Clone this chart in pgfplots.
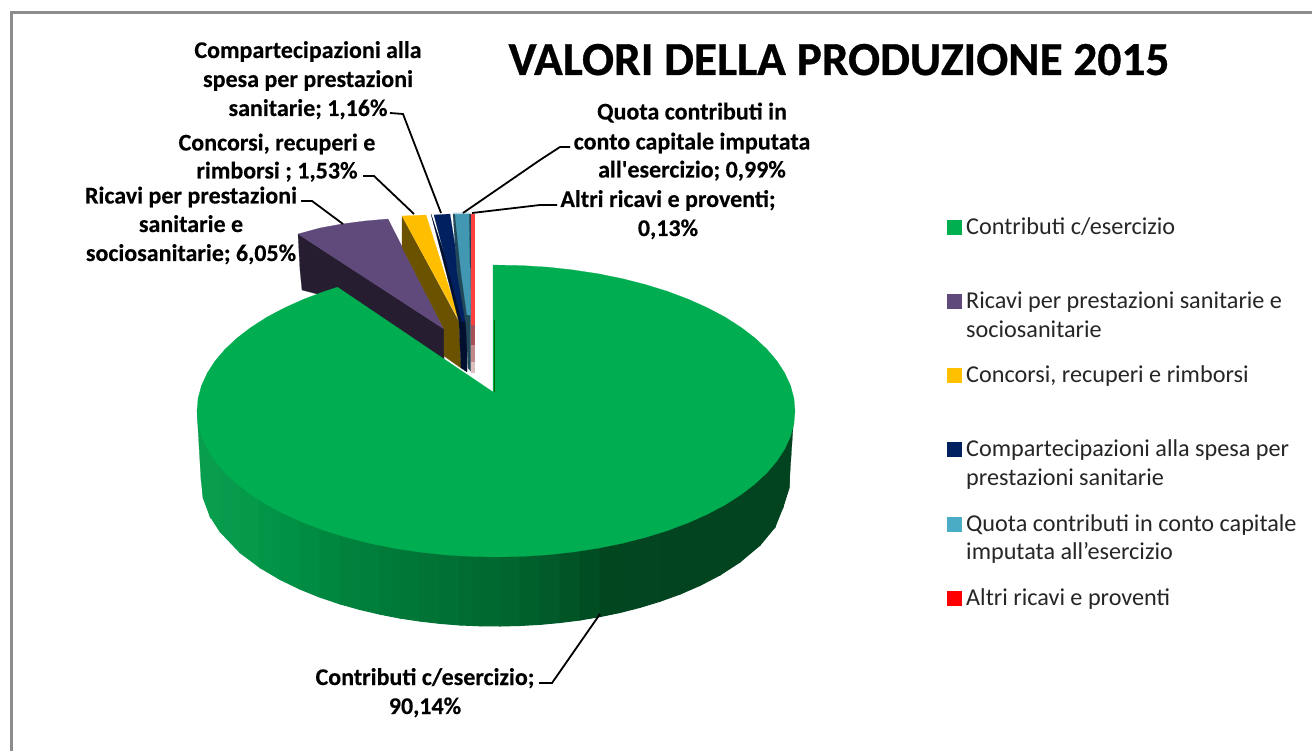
\documentclass[border=0pt]{standalone}
\usepackage{pgfplots}
\pgfplotsset{compat=1.18}
\usepackage{fontspec}
\setmainfont{Carlito}
\newfontfamily\heavyf{Carlito}[BoldFeatures={FakeBold=0.7}]
\newfontfamily\midf{Carlito}[BoldFeatures={FakeBold=0.25}]
\newcommand\strip[7]{\addplot[fill={rgb,255:red,#5;green,#6;blue,#7},draw={rgb,255:red,#5;green,#6;blue,#7},line width=1pt,forget plot] coordinates {(#1,411)(#3,411)(#3,#4)(#1,#2)} --cycle;}
\newcommand\poly[2]{\addplot[fill=#1,draw=#1,line width=0.2pt,forget plot] coordinates {#2} --cycle;}
\newcommand\lead[1]{\addplot[black,line width=1.8pt,forget plot] coordinates {#1};}
\newcommand\bl[3]{\node[anchor=base,inner sep=0pt,font=\midf\fontsize{24}{24}\selectfont\bfseries] at (axis cs:#1,#2) {#3};}
\newcommand\lgt[2]{\node[anchor=base west,inner sep=0pt,font=\fontsize{24.2}{24.2}\selectfont,text=black!85] at (axis cs:966,#1) {#2};}
\newcommand\mk[2]{\addplot[only marks,mark=square*,mark size=7pt,color=#1,mark options={draw=#1,fill=#1},forget plot] coordinates {(954,#2)};}
\definecolor{cgreen}{HTML}{00AD50}
\definecolor{cpurple}{HTML}{604A7B}
\definecolor{cpurpled}{HTML}{261E30}
\definecolor{corange}{HTML}{FFBE00}
\definecolor{cbrown}{HTML}{6B5200}
\definecolor{cnavy}{HTML}{002060}
\definecolor{cnavyd}{HTML}{00102E}
\definecolor{cteal}{HTML}{4297B2}
\definecolor{cteald}{HTML}{204858}
\definecolor{cred}{HTML}{FF4040}
\definecolor{cred2}{HTML}{A85058}
\definecolor{cred3}{HTML}{C08888}
\definecolor{cred4}{HTML}{DCC0C0}
\definecolor{lgreen}{HTML}{00B050}
\definecolor{lred}{HTML}{FF0000}
\definecolor{lorange}{HTML}{FFC000}
\definecolor{lteal}{HTML}{4BACC6}
\begin{document}
\begin{tikzpicture}
\begin{axis}[scale only axis,width=1312pt,height=751pt,xmin=0,xmax=1312,ymin=0,ymax=751,y dir=reverse,hide axis,clip=true]
% page background, which also fixes the picture's extent
\addplot[fill=white,draw=none,forget plot] coordinates {(0,0)(1312,0)(1312,751)(0,751)} --cycle;
% frame
\addplot[color=black!45,line width=3pt,forget plot] coordinates {(11,751)(11,12.5)(1312,12.5)};
% exploded slices
\poly{cpurpled}{(298,234)(444,329)(444,372)(340,300)(302,290)(300,270)}
\poly{cpurple}{(298,234)(320,228)(342,224)(365,221)(388,219)(444,329)}
\poly{cbrown}{(402,216)(459,322)(461,368)(444,356)(444,329)(402,247)}
\poly{corange}{(402,216)(426,215)(460,322)}
\poly{cnavyd}{(431,214)(459,322)(461,368)(467,372)(467,322)}
\poly{cnavy}{(434,215)(450,214)(467,320)(462,322)}
\poly{cteald}{(453,214)(457,272)(466,325)(468,368)(470.5,371)(470.5,320)(471,214)}
\poly{cteal}{(455,214)(469,214)(470.5,315)(467,315)(461,272)}
\addplot[color=cteal!40!white,line width=1.5pt,forget plot] coordinates {(453,213.5)(469,213)};
\poly{cred}{(471,214)(474,214)(474,325)(471,325)}
\poly{cred2}{(471,325)(474,325)(474,345)(471,345)}
\poly{cred3}{(471,345)(474,345)(474,362)(471,362)}
\poly{cred4}{(471,362)(474,362)(474,372)(471,372)}
% side of the green slice
\poly{{rgb,255:red,8;green,158;blue,78}}{(197,411)(201,480)(203,497)(203,411)}
\strip{203}{497}{210}{516}{8}{158}{78}
\strip{210}{516}{220}{531.5}{8}{158}{78}
\strip{220}{531.5}{240}{552.6}{7}{156}{77}
\strip{240}{552.6}{260}{567.6}{5}{153}{74}
\strip{260}{567.6}{280}{579.4}{3}{149}{71}
\strip{280}{579.4}{300}{589.1}{1}{145}{69}
\strip{300}{589.1}{320}{597.2}{0}{140}{66}
\strip{320}{597.2}{340}{603.9}{0}{135}{63}
\strip{340}{603.9}{360}{609.5}{0}{130}{61}
\strip{360}{609.5}{380}{614.2}{0}{126}{59}
\strip{380}{614.2}{400}{618.1}{0}{122}{57}
\strip{400}{618.1}{420}{621.1}{0}{118}{55}
\strip{420}{621.1}{440}{623.4}{0}{115}{53}
\strip{440}{623.4}{460}{625}{0}{112}{52}
\strip{460}{625}{480}{625.8}{0}{108}{50}
\strip{480}{625.8}{500}{626}{0}{105}{48}
\strip{500}{626}{520}{625.5}{0}{101}{46}
\strip{520}{625.5}{540}{624.4}{0}{96}{44}
\strip{540}{624.4}{560}{622.5}{0}{90}{41}
\strip{560}{622.5}{580}{620}{0}{84}{38}
\strip{580}{620}{600}{616.6}{0}{76}{35}
\strip{600}{616.6}{620}{612.5}{0}{71}{32}
\strip{620}{612.5}{640}{607.4}{1}{70}{32}
\strip{640}{607.4}{660}{601.3}{2}{69}{32}
\strip{660}{601.3}{680}{594.1}{3}{68}{32}
\strip{680}{594.1}{700}{585.4}{3}{68}{32}
\strip{700}{585.4}{720}{575}{3}{68}{32}
\strip{720}{575}{740}{562}{3}{68}{32}
\strip{740}{562}{760}{545.2}{3}{68}{32}
\strip{760}{545.2}{775}{527}{3}{68}{32}
\strip{775}{527}{783}{507}{3}{68}{32}
\strip{783}{507}{789}{488}{3}{68}{32}
\poly{{rgb,255:red,3;green,68;blue,32}}{(789,488)(794,413)(789,411)}
% top of the green slice
\poly{cgreen}{(493,392)(337.5,287.2)(324.5,291.4)(303.8,299.2)(284.6,307.8)(267,317.1)(251.1,327.3)(237.1,338)(225,349.3)(215,361.1)(207.2,373.2)(201.5,385.6)(198.1,398.3)(197,411)(198.1,423.7)(201.5,436.4)(207.2,448.8)(215,460.9)(225,472.7)(237.1,484)(251.1,494.7)(267,504.9)(284.6,514.2)(303.8,522.8)(324.5,530.6)(346.5,537.4)(369.6,543.3)(393.7,548.2)(418.6,552)(444,554.8)(469.9,556.4)(496,557)(522.1,556.4)(548,554.8)(573.4,552)(598.3,548.2)(622.4,543.3)(645.5,537.4)(667.5,530.6)(688.2,522.8)(707.4,514.2)(725,504.9)(740.9,494.7)(754.9,484)(767,472.7)(777,460.9)(784.8,448.8)(790.5,436.4)(793.9,423.7)(795,411)(793.9,398.3)(790.5,385.6)(784.8,373.2)(777,361.1)(767,349.3)(754.9,338)(740.9,327.3)(725,317.1)(707.4,307.8)(688.2,299.2)(667.5,291.4)(645.5,284.6)(622.4,278.7)(598.3,273.8)(573.4,270)(548,267.2)(522.1,265.6)(493,265)}
\addplot[color=green!40!black,line width=1pt,forget plot] coordinates {(494,320)(494,392)};
% leader lines
\lead{(390,113)(403,114)(441,213)}
\lead{(363,176)(374,176)(414,214)}
\lead{(301,201)(312,201)(343,224)}
\lead{(463,213)(540,160)(560,147)(570,147)}
\lead{(472,213)(540,205)(557,205)}
\lead{(600,614)(552,683)(539,683)}
% legend markers
\mk{lgreen}{227.5}
\mk{cpurple}{301}
\mk{lorange}{375}
\mk{cnavy}{449.5}
\mk{lteal}{524}
\mk{lred}{598}
% title
\node[anchor=base,inner sep=0pt,font=\heavyf\fontsize{47.4}{47.4}\selectfont\bfseries] at (axis cs:839,75) {VALORI DELLA PRODUZIONE 2015};
% data labels
\bl{308}{58}{Compartecipazioni alla}
\bl{308}{87}{spesa per prestazioni}
\bl{308}{116}{sanitarie; 1,16\%}
\bl{277}{150.5}{Concorsi, recuperi e}
\bl{277}{178.5}{rimborsi ; 1,53\%}
\bl{191}{203.5}{Ricavi per prestazioni}
\bl{191}{232}{sanitarie e}
\bl{191}{261}{sociosanitarie; 6,05\%}
\bl{692}{119.5}{Quota contributi in}
\bl{692}{149.5}{conto capitale imputata}
\bl{692}{177.5}{all'esercizio; 0,99\%}
\bl{668}{207}{Altri ricavi e proventi;}
\bl{668}{236}{0,13\%}
\bl{425}{685}{Contributi c/esercizio;}
\bl{425}{714}{90,14\%}
% legend text
\lgt{234.5}{Contributi c/esercizio}
\lgt{308.5}{Ricavi per prestazioni sanitarie e}
\lgt{337.5}{sociosanitarie}
\lgt{382.5}{Concorsi, recuperi e rimborsi}
\lgt{456.5}{Compartecipazioni alla spesa per}
\lgt{485.5}{prestazioni sanitarie}
\lgt{531.5}{Quota contributi in conto capitale}
\lgt{559.5}{imputata all'esercizio}
\lgt{605}{Altri ricavi e proventi}
\end{axis}
\end{tikzpicture}
\end{document}
